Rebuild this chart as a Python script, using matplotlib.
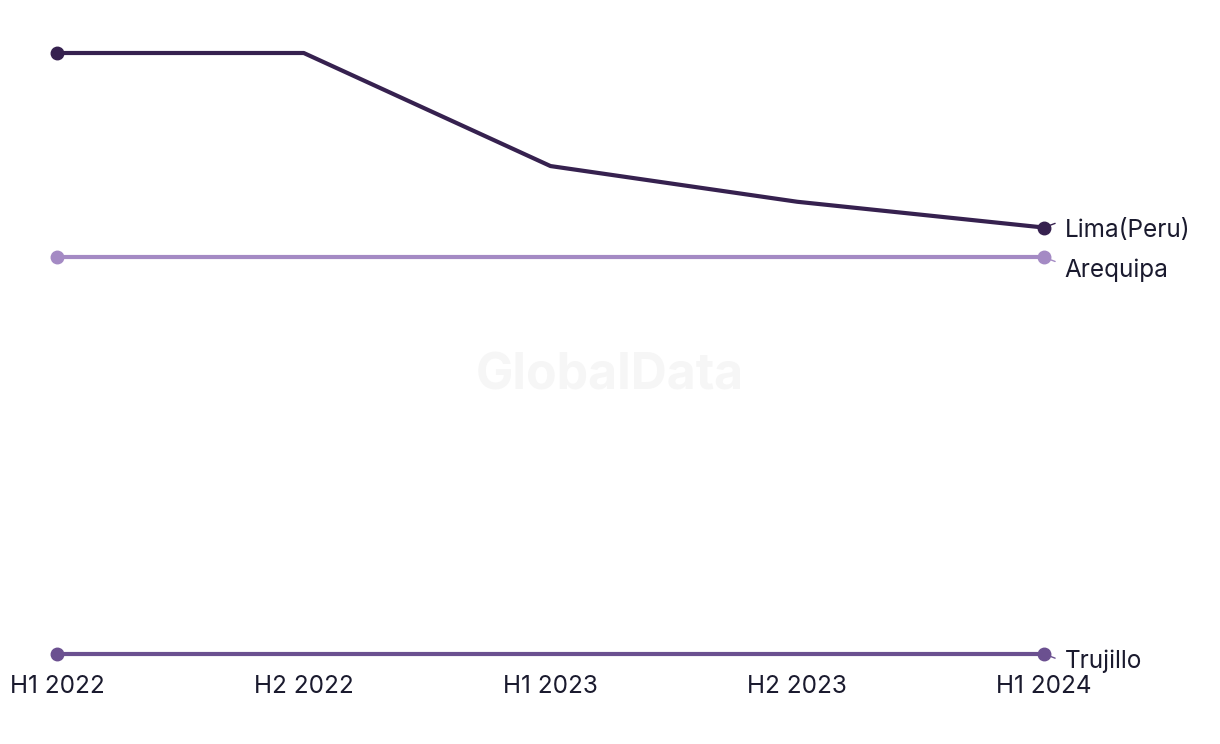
import matplotlib
matplotlib.use("Agg")
import matplotlib.pyplot as plt

periods = ["H1 2022", "H2 2022", "H1 2023", "H2 2023", "H1 2024"]
series_names = ["Lima(Peru)", "Arequipa", "Trujillo"]
lima = [40.3, 40.3, 34.6, 32.8, 31.5]
arequipa = [30.0, 30.0, 30.0, 30.0, 30.0]
trujillo = [10.0, 10.0, 10.0, 10.0, 10.0]
colors = ["#36214f", "#a48ac4", "#6b5090"]
label_dy = [-1.8, -9, -5]
connector_dy = [3, -3, -3]

plt.rcParams['font.family'] = ['Inter', 'DejaVu Sans']

W, H = 1220, 744
fig = plt.figure(figsize=(W / 100, H / 100), dpi=100)
x0, x1 = 57, 1044
ytop, ybot = 53, 654
ax = fig.add_axes([x0 / W, (H - ybot) / H, (x1 - x0) / W, (ybot - ytop) / H])
ax.set_xlim(0, len(periods) - 1)
ax.set_ylim(10, 40.3)
for s in ax.spines.values():
    s.set_visible(False)
ax.set_yticks([])
ax.set_xticks(range(len(periods)))
ax.set_xticklabels(periods, fontsize=17.5, color="#1a1a2e")
ax.tick_params(axis="x", length=0, pad=15)

xs = list(range(len(periods)))
for name, vals, c, dy, cdy in zip(series_names, [lima, arequipa, trujillo], colors, label_dy, connector_dy):
    ax.plot(xs, vals, color=c, lw=3, clip_on=False, zorder=3)
    ax.plot([xs[0], xs[-1]], [vals[0], vals[-1]], 'o', color=c, ms=9, clip_on=False, zorder=4)
    ax.annotate(name, xy=(xs[-1], vals[-1]), xytext=(15, dy), textcoords="offset points",
                fontsize=17.5, color="#1a1a2e", va="center", ha="left")
    ax.annotate("", xy=(xs[-1], vals[-1]), xytext=(8, cdy),
                textcoords="offset points",
                arrowprops=dict(arrowstyle="-", color=c, lw=1, shrinkA=0, shrinkB=4))

fig.text(610 / W, 1 - 376 / H, "GlobalData", fontsize=36, fontweight="bold",
         color="#f6f6f6", ha="center", va="center", zorder=0)

fig.savefig("out.png", dpi=100)
